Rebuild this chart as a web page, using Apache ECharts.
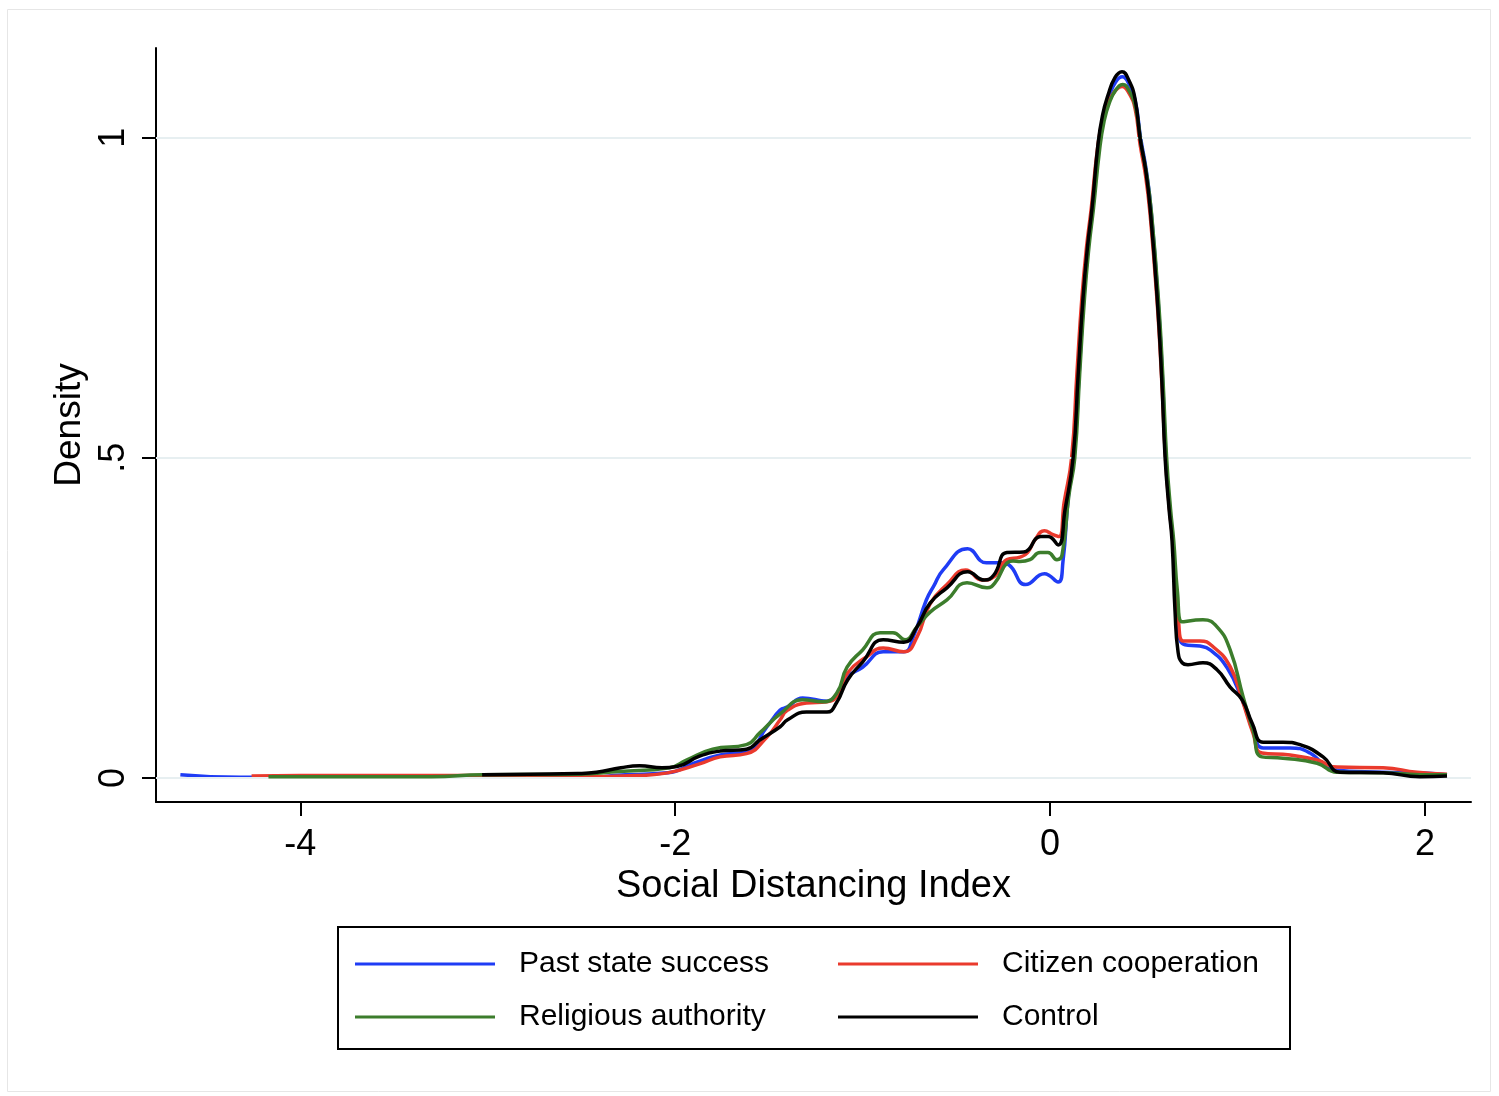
<!DOCTYPE html>
<html>
<head>
<meta charset="utf-8">
<script src="https://cdn.jsdelivr.net/npm/echarts@6/dist/echarts.min.js"></script>
<style>
html,body{margin:0;padding:0;background:#fff;}
#chart{width:1499px;height:1096px;}
</style>
</head>
<body>
<div id="chart"></div>
<script>
// ---- data (Social Distancing Index, Density) ----
const seriesNames = ['Past state success', 'Citizen cooperation', 'Religious authority', 'Control'];
const seriesColors = ['#1f3cf5', '#ea3a2d', '#3c7d2c', '#000000'];

const xTicks = [-4, -2, 0, 2];
const xTickLabels = ['-4', '-2', '0', '2'];
const yTicks = [0, 0.5, 1];
const yTickLabels = ['0', '.5', '1'];

const pastState = [[-4.64,0.005],[-4.32,0.001],[-4.0,0.002],[-3.66,0.003],[-3.09,0.003],[-2.52,0.001],[-2.42,0.001],[-2.33,0.004],[-2.04,0.008],[-1.90,0.023],[-1.76,0.036],[-1.62,0.041],[-1.51,0.080],[-1.44,0.106],[-1.40,0.111],[-1.32,0.125],[-1.19,0.120],[-1.14,0.130],[-1.08,0.158],[-1.00,0.173],[-0.89,0.197],[-0.78,0.197],[-0.73,0.220],[-0.66,0.278],[-0.62,0.300],[-0.57,0.325],[-0.44,0.358],[-0.34,0.336],[-0.26,0.336],[-0.22,0.333],[-0.13,0.302],[-0.03,0.319],[0.043,0.306],[0.069,0.338],[0.098,0.44],[0.128,0.5],[0.155,0.63],[0.18,0.75],[0.204,0.83],[0.228,0.89],[0.26,0.99],[0.284,1.033],[0.312,1.062],[0.35,1.087],[0.386,1.095],[0.422,1.083],[0.456,1.055],[0.483,1.0],[0.513,0.95],[0.538,0.89],[0.575,0.752],[0.599,0.63],[0.618,0.5],[0.638,0.42],[0.655,0.37],[0.672,0.28],[0.685,0.228],[0.72,0.208],[0.80,0.206],[0.854,0.200],[0.945,0.172],[1.025,0.122],[1.083,0.075],[1.137,0.047],[1.281,0.047],[1.387,0.039],[1.51,0.013],[1.777,0.009],[1.958,0.008],[2.118,0.005]];

const citizenCoop = [[-4.26,0.003],[-4.0,0.004],[-3.5,0.004],[-3.0,0.004],[-2.52,0.002],[-2.2,0.004],[-2.04,0.008],[-1.87,0.022],[-1.76,0.033],[-1.62,0.038],[-1.51,0.064],[-1.44,0.091],[-1.40,0.106],[-1.30,0.117],[-1.19,0.119],[-1.14,0.127],[-1.08,0.164],[-0.98,0.189],[-0.89,0.203],[-0.78,0.197],[-0.71,0.220],[-0.64,0.272],[-0.55,0.302],[-0.45,0.325],[-0.36,0.309],[-0.30,0.314],[-0.23,0.341],[-0.16,0.345],[-0.12,0.352],[-0.08,0.372],[-0.03,0.386],[0.016,0.380],[0.048,0.377],[0.075,0.43],[0.115,0.5],[0.143,0.63],[0.17,0.75],[0.195,0.83],[0.22,0.89],[0.252,0.98],[0.278,1.025],[0.308,1.052],[0.347,1.073],[0.385,1.080],[0.42,1.07],[0.454,1.045],[0.48,0.99],[0.51,0.94],[0.534,0.88],[0.571,0.745],[0.596,0.62],[0.616,0.5],[0.637,0.42],[0.655,0.37],[0.672,0.29],[0.685,0.245],[0.71,0.214],[0.80,0.214],[0.87,0.205],[0.961,0.174],[1.025,0.122],[1.083,0.070],[1.131,0.039],[1.281,0.036],[1.425,0.028],[1.531,0.017],[1.777,0.016],[1.958,0.009],[2.118,0.006]];

const religiousAuth = [[-4.17,0.002],[-3.8,0.002],[-3.3,0.002],[-3.03,0.005],[-2.52,0.006],[-2.3,0.010],[-2.03,0.016],[-1.94,0.028],[-1.80,0.045],[-1.62,0.052],[-1.55,0.070],[-1.44,0.100],[-1.32,0.122],[-1.21,0.119],[-1.137,0.133],[-1.083,0.173],[-1.00,0.200],[-0.907,0.227],[-0.838,0.227],[-0.774,0.216],[-0.71,0.236],[-0.64,0.259],[-0.55,0.278],[-0.443,0.305],[-0.336,0.297],[-0.293,0.305],[-0.229,0.336],[-0.197,0.339],[-0.16,0.338],[-0.107,0.341],[-0.053,0.352],[-0.011,0.352],[0.037,0.341],[0.064,0.348],[0.10,0.44],[0.132,0.5],[0.158,0.63],[0.184,0.75],[0.208,0.83],[0.232,0.89],[0.264,0.98],[0.288,1.025],[0.316,1.054],[0.352,1.075],[0.388,1.083],[0.424,1.072],[0.458,1.045],[0.486,0.99],[0.517,0.94],[0.542,0.88],[0.579,0.745],[0.603,0.62],[0.622,0.5],[0.643,0.42],[0.66,0.37],[0.68,0.29],[0.704,0.244],[0.816,0.247],[0.891,0.236],[0.961,0.200],[1.03,0.127],[1.083,0.075],[1.131,0.033],[1.243,0.031],[1.425,0.023],[1.531,0.009],[1.777,0.008],[2.044,0.005],[2.118,0.005]];

const control = [[-3.03,0.005],[-2.78,0.006],[-2.52,0.007],[-2.42,0.009],[-2.29,0.016],[-2.19,0.019],[-2.07,0.016],[-1.99,0.018],[-1.87,0.034],[-1.76,0.042],[-1.62,0.045],[-1.55,0.059],[-1.44,0.080],[-1.40,0.091],[-1.30,0.103],[-1.19,0.103],[-1.14,0.117],[-1.08,0.153],[-1.00,0.181],[-0.89,0.216],[-0.78,0.212],[-0.71,0.236],[-0.64,0.273],[-0.55,0.297],[-0.44,0.322],[-0.35,0.309],[-0.30,0.317],[-0.23,0.352],[-0.14,0.353],[-0.05,0.377],[-0.01,0.377],[0.043,0.364],[0.08,0.419],[0.123,0.5],[0.15,0.63],[0.176,0.75],[0.2,0.83],[0.224,0.89],[0.256,0.99],[0.28,1.035],[0.309,1.066],[0.347,1.094],[0.384,1.103],[0.42,1.09],[0.454,1.06],[0.48,1.0],[0.51,0.95],[0.534,0.89],[0.571,0.752],[0.595,0.63],[0.614,0.5],[0.635,0.42],[0.651,0.37],[0.667,0.26],[0.683,0.197],[0.705,0.180],[0.736,0.177],[0.816,0.180],[0.891,0.169],[0.961,0.142],[1.025,0.122],[1.078,0.086],[1.137,0.056],[1.243,0.056],[1.334,0.052],[1.457,0.033],[1.547,0.009],[1.777,0.008],[1.974,0.002],[2.118,0.003]];

const seriesData = [pastState, citizenCoop, religiousAuth, control];

// ---- chart ----
const FONT = '"Liberation Sans", Arial, Helvetica, sans-serif';
const chart = echarts.init(document.getElementById('chart'), null, {renderer: 'canvas'});

const legendPos = [[355, 947], [838, 947], [355, 1000], [838, 1000]];
const legends = seriesNames.map((n, i) => ({
  data: [n],
  left: legendPos[i][0],
  top: legendPos[i][1],
  padding: 0,
  icon: 'rect',
  itemWidth: 140,
  itemHeight: 3,
  selectedMode: false,
  textStyle: {fontFamily: FONT, fontSize: 30, color: '#000', lineHeight: 34, padding: [0, 0, 0, 19]}
}));

const lineSeries = seriesNames.map((n, i) => ({
  name: n,
  type: 'line',
  data: seriesData[i],
  showSymbol: false,
  symbol: 'none',
  smooth: 0.5,
  z: 3 + i,
  lineStyle: {color: seriesColors[i], width: 3.5},
  itemStyle: {color: seriesColors[i]},
  silent: true,
  animation: false
}));

const gridSeries = {
  type: 'line',
  data: [],
  silent: true,
  z: 1,
  markLine: {
    silent: true,
    symbol: 'none',
    animation: false,
    label: {show: false},
    lineStyle: {color: '#e7eff1', width: 2, type: 'solid'},
    data: yTicks.map(v => ({yAxis: v}))
  }
};

const option = {
  backgroundColor: '#ffffff',
  animation: false,
  textStyle: {fontFamily: FONT},
  grid: {left: 156, right: 28, top: 48, bottom: 294, containLabel: false},
  legend: legends,
  xAxis: {
    type: 'value',
    min: -4.77,
    max: 2.246,
    name: 'Social Distancing Index',
    nameLocation: 'middle',
    nameGap: 62,
    nameTextStyle: {fontFamily: FONT, fontSize: 38, color: '#000'},
    axisLine: {show: true, onZero: false, lineStyle: {color: '#000', width: 2}},
    axisTick: {show: true, customValues: xTicks, length: 14, lineStyle: {color: '#000', width: 2}},
    axisLabel: {
      show: true, customValues: xTicks, margin: 25,
      fontFamily: FONT, fontSize: 36, color: '#000',
      formatter: v => xTickLabels[xTicks.indexOf(v)] ?? ''
    },
    splitLine: {show: false}
  },
  yAxis: {
    type: 'value',
    min: -0.0375,
    max: 1.14,
    name: 'Density',
    nameLocation: 'middle',
    nameRotate: 90,
    nameGap: 57,
    nameTextStyle: {fontFamily: FONT, fontSize: 37, color: '#000'},
    axisLine: {show: true, onZero: false, lineStyle: {color: '#000', width: 2}},
    axisTick: {show: true, customValues: yTicks, length: 14, lineStyle: {color: '#000', width: 2}},
    axisLabel: {
      show: true, customValues: yTicks, rotate: 90, margin: 24,
      fontFamily: FONT, fontSize: 36, color: '#000',
      formatter: v => yTickLabels[yTicks.indexOf(v)] ?? ''
    },
    splitLine: {show: false}
  },
  graphic: [
    {type: 'rect', silent: true, z: 0, shape: {x: 7.5, y: 9.5, width: 1483, height: 1082},
     style: {fill: 'none', stroke: '#e6e6e6', lineWidth: 1}},
    {type: 'rect', silent: true, z: 10, shape: {x: 338, y: 927, width: 952, height: 122},
     style: {fill: 'none', stroke: '#000', lineWidth: 2}}
  ],
  series: [gridSeries].concat(lineSeries)
};
chart.setOption(option);
</script>
</body>
</html>
